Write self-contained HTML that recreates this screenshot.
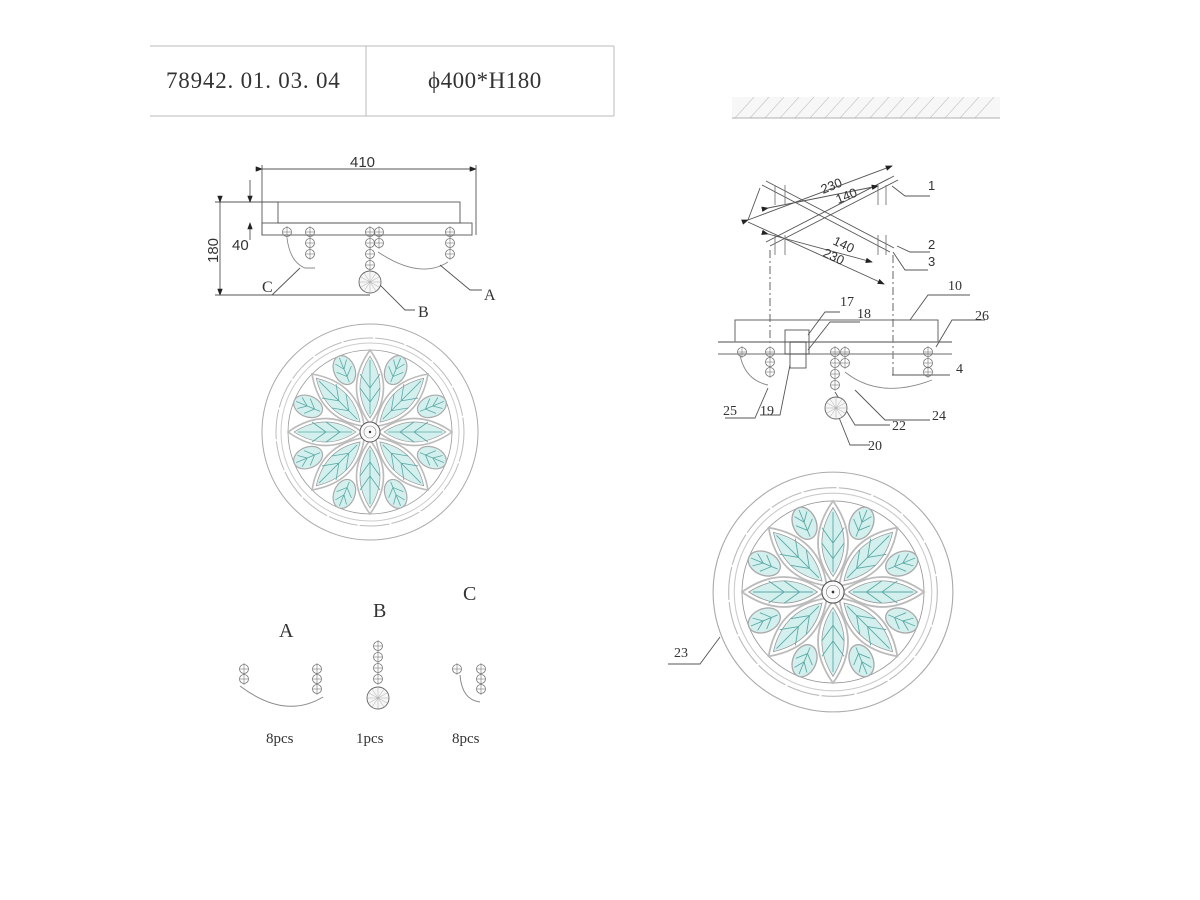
<!DOCTYPE html>
<html><head><meta charset="utf-8"><style>
html,body{margin:0;padding:0;background:#fff;}
svg{display:block}
text{font-family:"Liberation Serif",serif;fill:#333}
.s{font-family:"Liberation Sans",sans-serif}
</style></head><body>
<svg width="1200" height="900" viewBox="0 0 1200 900" xmlns="http://www.w3.org/2000/svg">
<defs>
<g id="bead"><circle r="4.5" fill="none" stroke="#777" stroke-width="0.8"/><line x1="-4.5" y1="0" x2="4.5" y2="0" stroke="#777" stroke-width="0.6"/><line x1="0" y1="-6" x2="0" y2="6" stroke="#777" stroke-width="0.6"/></g>
<g id="ball"><circle r="11" fill="#f6f6f6" stroke="#666" stroke-width="0.9"/><path d="M-9,-5 L9,5 M-9,5 L9,-5 M0,-11 L0,11 M-11,0 L11,0 M-6,-9 L6,9 M6,-9 L-6,9" stroke="#aaa" stroke-width="0.5"/></g>
<g id="petal">
<path d="M8,0 Q44,-27 82,0 Q44,27 8,0Z" fill="none" stroke="#bbb" stroke-width="1.6"/>
<path d="M14,0 Q44,-20 76,0 Q44,20 14,0Z" fill="#d3f0ee" stroke="#999" stroke-width="0.7"/>
<path d="M18,0 L72,0 M30,0 L44,-10 M44,0 L58,-10 M30,0 L44,10 M44,0 L58,10" stroke="#5aa9a5" stroke-width="0.8" fill="none"/>
</g>
<g id="leaf">
<ellipse cx="67" cy="0" rx="15" ry="10.5" fill="#d3f0ee" stroke="#aaa" stroke-width="1.2"/>
<path d="M54,0 L80,0 M60,0 L68,-8 M68,0 L76,-6 M60,0 L68,8 M68,0 L76,6" stroke="#5aa9a5" stroke-width="0.8" fill="none"/>
</g>
<g id="ros">
<circle r="108" fill="none" stroke="#aaa" stroke-width="1"/>
<circle r="94" fill="none" stroke="#bbb" stroke-width="1" stroke-dasharray="30 2"/>
<circle r="89" fill="none" stroke="#ccc" stroke-width="1"/>
<circle r="82" fill="none" stroke="#999" stroke-width="0.8"/>
<use href="#petal" transform="rotate(0)"/><use href="#petal" transform="rotate(45)"/><use href="#petal" transform="rotate(90)"/><use href="#petal" transform="rotate(135)"/><use href="#petal" transform="rotate(180)"/><use href="#petal" transform="rotate(225)"/><use href="#petal" transform="rotate(270)"/><use href="#petal" transform="rotate(315)"/>
<use href="#leaf" transform="rotate(22.5)"/><use href="#leaf" transform="rotate(67.5)"/><use href="#leaf" transform="rotate(112.5)"/><use href="#leaf" transform="rotate(157.5)"/><use href="#leaf" transform="rotate(202.5)"/><use href="#leaf" transform="rotate(247.5)"/><use href="#leaf" transform="rotate(292.5)"/><use href="#leaf" transform="rotate(337.5)"/>
<circle r="10" fill="#fafafa" stroke="#555" stroke-width="1"/><circle r="6" fill="none" stroke="#888" stroke-width="0.6"/><circle r="1.2" fill="#333"/>
</g>
<marker id="ar" markerWidth="8" markerHeight="6" refX="7" refY="3" orient="auto"><path d="M0,0 L8,3 L0,6Z" fill="#222"/></marker>
</defs>

<g stroke="#bbb" stroke-width="1" fill="none">
<line x1="150" y1="46" x2="614" y2="46"/><line x1="150" y1="116" x2="614" y2="116"/>
<line x1="366" y1="46" x2="366" y2="116"/><line x1="614" y1="46" x2="614" y2="116"/>
</g>
<text x="166" y="88" font-size="23" letter-spacing="0.8">78942. 01. 03. 04</text>
<text x="428" y="88" font-size="23" letter-spacing="0.5">ϕ400*H180</text>

<g stroke="#555" stroke-width="0.9" fill="none">
<line x1="262" y1="169" x2="476" y2="169" marker-start="url(#ar)" marker-end="url(#ar)"/>
<line x1="262" y1="165" x2="262" y2="235"/><line x1="476" y1="165" x2="476" y2="235"/>
<rect x="278" y="202" width="182" height="21"/>
<rect x="262" y="223" width="210" height="12"/>
<line x1="215" y1="202" x2="278" y2="202"/>
<line x1="220" y1="202" x2="220" y2="295" marker-start="url(#ar)" marker-end="url(#ar)"/>
<line x1="250" y1="180" x2="250" y2="202" marker-end="url(#ar)"/>
<line x1="250" y1="240" x2="250" y2="223" marker-end="url(#ar)"/>
<line x1="215" y1="295" x2="370" y2="295"/>
<path d="M287,238 Q290,262 305,268 L315,268" stroke="#888"/>
<path d="M378,252 Q420,280 448,262" stroke="#888"/>
<path d="M300,268 L272,295" /><path d="M440,265 L470,290 L482,290"/>
<path d="M380,285 L405,310 L415,310"/>
</g>
<g>
<use href="#bead" x="287" y="232"/><use href="#bead" x="310" y="232"/><use href="#bead" x="310" y="243"/><use href="#bead" x="310" y="254"/>
<use href="#bead" x="370" y="232"/><use href="#bead" x="370" y="243"/><use href="#bead" x="370" y="254"/><use href="#bead" x="370" y="265"/>
<use href="#bead" x="379" y="232"/><use href="#bead" x="379" y="243"/>
<use href="#bead" x="450" y="232"/><use href="#bead" x="450" y="243"/><use href="#bead" x="450" y="254"/>
<use href="#ball" x="370" y="282"/>
</g>
<text font-size="15" class="s" transform="translate(218,263) rotate(-90)">180</text>
<text x="232" y="250" font-size="15" class="s">40</text>
<text x="350" y="167" font-size="15" class="s">410</text>
<text x="262" y="292" font-size="16">C</text>
<text x="484" y="300" font-size="16">A</text>
<text x="418" y="317" font-size="16">B</text>

<use href="#ros" x="370" y="432"/>

<text x="279" y="637" font-size="20">A</text>
<text x="373" y="617" font-size="20">B</text>
<text x="463" y="600" font-size="20">C</text>
<g stroke="#888" fill="none" stroke-width="1">
<path d="M240,686 Q285,720 323,697"/><path d="M460,675 Q462,700 480,702"/>
</g>
<use href="#bead" x="244" y="669"/><use href="#bead" x="244" y="679"/>
<use href="#bead" x="317" y="669"/><use href="#bead" x="317" y="679"/><use href="#bead" x="317" y="689"/>
<use href="#bead" x="378" y="646"/><use href="#bead" x="378" y="657"/><use href="#bead" x="378" y="668"/><use href="#bead" x="378" y="679"/>
<use href="#ball" x="378" y="698"/>
<use href="#bead" x="457" y="669"/><use href="#bead" x="481" y="669"/><use href="#bead" x="481" y="679"/><use href="#bead" x="481" y="689"/>
<text x="266" y="743" font-size="15">8pcs</text>
<text x="356" y="743" font-size="15">1pcs</text>
<text x="452" y="743" font-size="15">8pcs</text>

<g stroke="#ccc" stroke-width="0.8">
<rect x="732" y="97" width="268" height="21" fill="#f7f7f7" stroke="none"/>
<path d="M735,118 L754,97 M750,118 L769,97 M765,118 L784,97 M780,118 L799,97 M795,118 L814,97 M810,118 L829,97 M825,118 L844,97 M840,118 L859,97 M855,118 L874,97 M870,118 L889,97 M885,118 L904,97 M900,118 L919,97 M915,118 L934,97 M930,118 L949,97 M945,118 L964,97 M960,118 L979,97 M975,118 L994,97"/>
<line x1="732" y1="118" x2="1000" y2="118" stroke="#999"/>
</g>

<g stroke="#555" stroke-width="0.9" fill="none">
<path d="M762,185 L890,252 M766,181 L894,248"/>
<path d="M770,246 L898,180 M766,242 L894,176"/>
<line x1="748" y1="220" x2="892" y2="166" marker-start="url(#ar)" marker-end="url(#ar)"/>
<line x1="768" y1="208" x2="878" y2="186" marker-start="url(#ar)" marker-end="url(#ar)"/>
<line x1="748" y1="222" x2="884" y2="284" marker-end="url(#ar)"/>
<line x1="768" y1="234" x2="872" y2="262" marker-start="url(#ar)" marker-end="url(#ar)"/>
<line x1="748" y1="220" x2="760" y2="188"/>
<path d="M892,186 L905,196 L930,196"/><path d="M897,246 L910,252 L930,252"/><path d="M893,252 L905,270 L928,270"/>
<line x1="770" y1="250" x2="770" y2="345" stroke-dasharray="8 3 2 3"/>
<line x1="893" y1="255" x2="893" y2="375" stroke-dasharray="8 3 2 3"/>
<g stroke="#777"><line x1="775" y1="185" x2="775" y2="205"/><line x1="785" y1="185" x2="785" y2="205"/><line x1="878" y1="185" x2="878" y2="205"/><line x1="886" y1="185" x2="886" y2="205"/><line x1="775" y1="235" x2="775" y2="255"/><line x1="785" y1="235" x2="785" y2="255"/><line x1="878" y1="235" x2="878" y2="255"/><line x1="886" y1="235" x2="886" y2="255"/></g>
</g>
<g class="s" font-size="13">
<text x="823" y="194" transform="rotate(-22 823 194)" class="s">230</text>
<text x="838" y="204" transform="rotate(-22 838 204)" class="s">140</text>
<text x="832" y="244" transform="rotate(25 832 244)" class="s">140</text>
<text x="822" y="256" transform="rotate(25 822 256)" class="s">230</text>
<text x="928" y="190" class="s">1</text>
<text x="928" y="249" class="s">2</text>
<text x="928" y="266" class="s">3</text>
</g>

<g stroke="#555" stroke-width="0.9" fill="none">
<rect x="735" y="320" width="203" height="22"/>
<line x1="718" y1="342" x2="952" y2="342" stroke="#888" stroke-width="1.4"/>
<line x1="718" y1="354" x2="952" y2="354" stroke="#888" stroke-width="1.2"/>
<rect x="785" y="330" width="24" height="24"/>
<rect x="790" y="342" width="16" height="26"/>
<path d="M740,355 Q745,380 768,385" stroke="#888"/>
<path d="M845,372 Q880,400 932,380" stroke="#888"/>
<path d="M910,320 L928,295 L970,295"/><path d="M808,335 L825,312 L840,312"/><path d="M808,350 L830,322 L860,322"/>
<path d="M936,347 L952,320 L985,320"/><path d="M892,375 L950,375"/>
<path d="M768,388 L755,418 L725,418"/><path d="M790,365 L780,415 L760,415"/>
<path d="M835,392 L855,425 L890,425"/><path d="M855,390 L885,420 L930,420"/>
<path d="M838,415 L850,445 L870,445"/>
</g>
<g>
<use href="#bead" x="742" y="352"/><use href="#bead" x="770" y="352"/><use href="#bead" x="770" y="362"/><use href="#bead" x="770" y="372"/>
<use href="#bead" x="835" y="352"/><use href="#bead" x="835" y="363"/><use href="#bead" x="835" y="374"/><use href="#bead" x="835" y="385"/>
<use href="#bead" x="845" y="352"/><use href="#bead" x="845" y="363"/>
<use href="#bead" x="928" y="352"/><use href="#bead" x="928" y="363"/><use href="#bead" x="928" y="372"/>
<use href="#ball" x="836" y="408"/>
</g>
<g font-size="14">
<text x="948" y="290">10</text>
<text x="840" y="306">17</text>
<text x="857" y="318">18</text>
<text x="975" y="320">26</text>
<text x="956" y="373">4</text>
<text x="723" y="415">25</text>
<text x="760" y="415">19</text>
<text x="892" y="430">22</text>
<text x="932" y="420">24</text>
<text x="868" y="450">20</text>
<text x="674" y="657">23</text>
</g>
<path d="M668,664 L700,664 L720,637" stroke="#555" fill="none" stroke-width="0.9"/>

<use href="#ros" transform="translate(833,592) scale(1.11)"/>
</svg>
</body></html>
